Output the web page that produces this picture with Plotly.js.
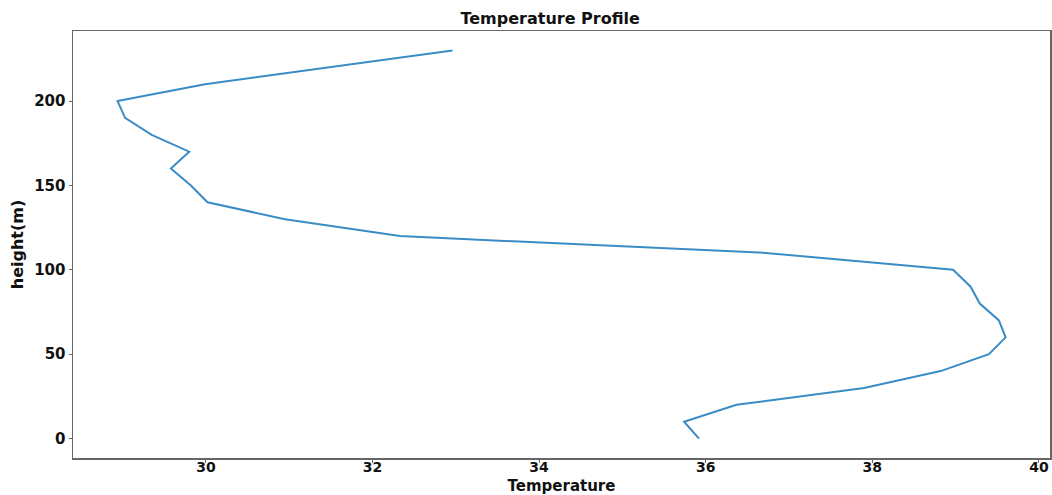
<!DOCTYPE html>
<html>
<head>
<meta charset="utf-8">
<script src="https://cdn.plot.ly/plotly-3.0.1.min.js"></script>
<style>html,body{margin:0;padding:0;background:#fff;}#chart{width:1052px;height:495px;}</style>
</head>
<body>
<div id="chart"></div>
<script>
const heights = [0, 10, 20, 30, 40, 50, 60, 70, 80, 90, 100, 110, 120, 130, 140, 150, 160, 170, 180, 190, 200, 210, 230];
const temperature = [35.92, 35.74, 36.37, 37.90, 38.82, 39.40, 39.60, 39.52, 39.29, 39.18, 38.97, 36.72, 32.33, 30.95, 30.02, 29.82, 29.58, 29.80, 29.35, 29.03, 28.94, 29.99, 32.96];
const xTicks = [30, 32, 34, 36, 38, 40];
const yTicks = [0, 50, 100, 150, 200];

const font = 'DejaVu Sans, sans-serif';
Plotly.newPlot('chart', [{
  x: temperature,
  y: heights,
  type: 'scatter',
  mode: 'lines',
  line: {color: '#3a8cc6', width: 2},
  hoverinfo: 'skip'
}], {
  width: 1052, height: 495,
  margin: {l: 73, r: 2, t: 31, b: 37},
  paper_bgcolor: '#fff', plot_bgcolor: '#fff',
  showlegend: false,
  title: {text: '<b>Temperature Profile</b>', font: {family: font, size: 16, color: '#111'}, x: 0.523, xanchor: 'center', y: 0.962, yanchor: 'middle'},
  xaxis: {
    range: [28.405, 40.133], tickvals: xTicks, ticktext: xTicks.map(v => '<b>' + v + '</b>'),
    showgrid: false, zeroline: false, showline: true, mirror: true, linecolor: '#666', linewidth: 1.5,
    ticks: 'outside', ticklen: 3, tickcolor: '#666', tickfont: {family: font, size: 14, color: '#111'},
    ticklabelstandoff: -7,
    title: {text: '<b>Temperature</b>', font: {family: font, size: 15, color: '#111'}, standoff: 6}
  },
  yaxis: {
    range: [-11.5, 241.5], tickvals: yTicks, ticktext: yTicks.map(v => '<b>' + v + '</b>'),
    showgrid: false, zeroline: false, showline: true, mirror: true, linecolor: '#666', linewidth: 1.5,
    ticks: 'outside', ticklen: 3, tickcolor: '#666', tickfont: {family: font, size: 15, color: '#111'},
    title: {text: '<b>height(m)</b>', font: {family: font, size: 16, color: '#111'}, standoff: 6}
  }
}, {staticPlot: true});
</script>
</body>
</html>
